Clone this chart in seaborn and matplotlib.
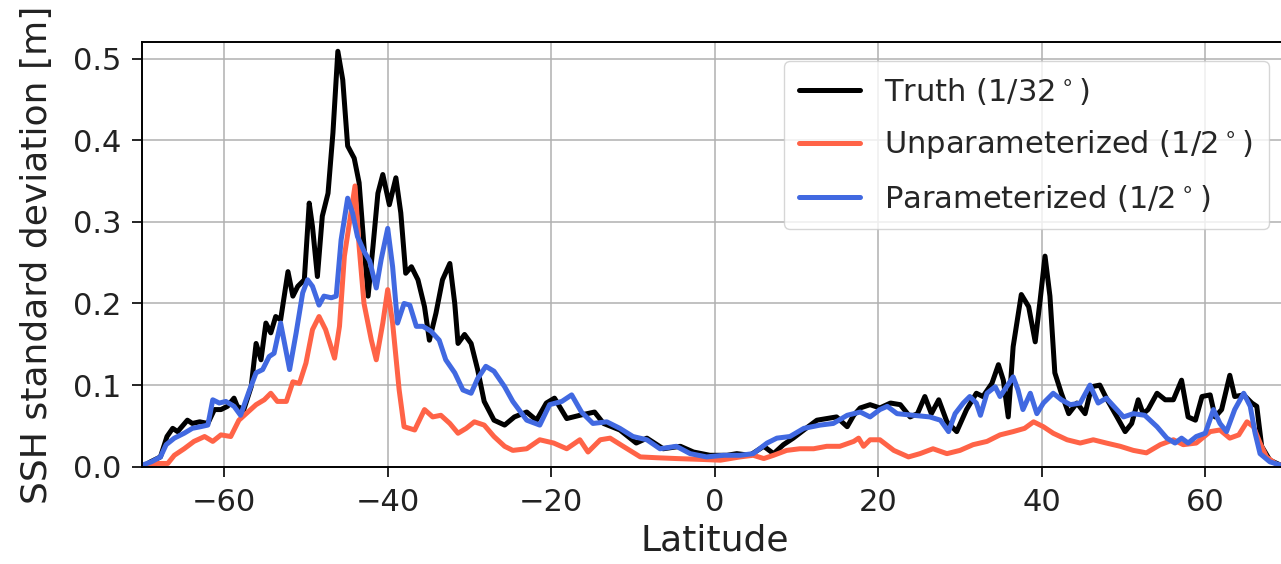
import matplotlib
matplotlib.use("Agg")
import matplotlib.pyplot as plt
import seaborn as sns

# Zonal SSH standard deviation profiles (latitude in degrees, values in metres)
truth_lat = [-70.0, -69.0, -67.8, -67.0, -66.3, -65.7, -64.5, -63.9, -63.0, -62.0,
             -61.2, -60.4, -59.6, -58.8, -58.4, -57.6, -56.7, -56.1, -55.5, -54.9,
             -54.3, -53.7, -53.1, -52.2, -51.6, -51.0, -50.2, -49.6, -49.2, -48.6,
             -48.0, -47.3, -46.7, -46.1, -45.5, -44.9, -44.1, -43.5, -42.9, -42.4,
             -41.8, -41.2, -40.6, -39.8, -39.0, -38.4, -37.8, -37.1, -36.3, -35.5,
             -34.9, -34.1, -33.3, -32.4, -31.8, -31.4, -30.6, -29.8, -29.0, -28.2,
             -27.0, -25.7, -24.5, -23.0, -21.8, -20.6, -19.6, -18.1, -16.5, -14.7,
             -13.6, -11.6, -9.6, -8.3, -6.3, -4.2, -2.6, -0.6, 1.5, 2.7,
             4.3, 6.0, 7.2, 8.4, 9.6, 10.9, 12.5, 13.7, 14.9, 16.2,
             17.0, 17.8, 19.0, 20.2, 21.5, 22.7, 23.9, 24.8, 25.7, 26.5,
             27.4, 28.4, 29.6, 30.8, 32.0, 32.8, 33.9, 34.7, 35.3, 35.9,
             36.5, 37.5, 38.4, 39.2, 39.8, 40.4, 41.0, 41.6, 42.4, 43.3,
             44.3, 45.3, 46.1, 47.1, 47.9, 49.2, 50.2, 51.0, 51.8, 52.4,
             53.0, 54.1, 55.1, 56.1, 57.1, 57.9, 58.8, 59.6, 60.6, 61.2,
             62.0, 63.0, 63.6, 64.7, 65.7, 66.3, 66.9, 67.9, 69.2]
truth_std = [0.000, 0.006, 0.012, 0.037, 0.047, 0.043, 0.057, 0.053, 0.055, 0.053,
             0.070, 0.070, 0.074, 0.084, 0.074, 0.070, 0.098, 0.151, 0.131, 0.176,
             0.164, 0.184, 0.180, 0.239, 0.209, 0.221, 0.229, 0.323, 0.294, 0.233,
             0.307, 0.335, 0.409, 0.509, 0.474, 0.393, 0.378, 0.348, 0.270, 0.209,
             0.270, 0.335, 0.358, 0.321, 0.354, 0.311, 0.237, 0.245, 0.229, 0.196,
             0.155, 0.188, 0.229, 0.249, 0.200, 0.151, 0.162, 0.151, 0.119, 0.080,
             0.057, 0.051, 0.061, 0.067, 0.057, 0.078, 0.084, 0.059, 0.063, 0.067,
             0.053, 0.045, 0.029, 0.035, 0.022, 0.025, 0.018, 0.014, 0.014, 0.016,
             0.014, 0.025, 0.016, 0.027, 0.035, 0.045, 0.057, 0.059, 0.061, 0.049,
             0.063, 0.072, 0.076, 0.072, 0.078, 0.076, 0.061, 0.065, 0.086, 0.065,
             0.082, 0.055, 0.043, 0.070, 0.090, 0.086, 0.102, 0.125, 0.106, 0.061,
             0.147, 0.211, 0.196, 0.153, 0.204, 0.258, 0.209, 0.115, 0.090, 0.065,
             0.078, 0.065, 0.098, 0.100, 0.084, 0.061, 0.043, 0.053, 0.082, 0.065,
             0.070, 0.090, 0.082, 0.082, 0.106, 0.061, 0.057, 0.086, 0.088, 0.061,
             0.070, 0.112, 0.086, 0.088, 0.078, 0.074, 0.025, 0.008, 0.002]

unparam_lat = [-70.0, -68.2, -66.9, -66.1, -64.9, -63.7, -62.4, -61.4, -60.4, -59.2,
               -58.2, -57.1, -56.1, -55.1, -54.3, -53.5, -52.4, -51.6, -50.8, -50.0,
               -49.2, -48.4, -47.6, -46.5, -45.9, -45.3, -44.5, -44.0, -43.5, -42.9,
               -42.0, -41.4, -40.6, -40.0, -39.4, -38.6, -38.0, -36.7, -35.5, -34.5,
               -33.5, -32.4, -31.4, -30.4, -29.4, -28.2, -27.0, -25.7, -24.7, -23.0,
               -21.4, -19.7, -18.1, -16.5, -15.5, -14.0, -12.8, -11.2, -9.1, -7.1,
               -4.7, -1.8, 0.7, 3.1, 4.7, 6.0, 7.2, 8.8, 10.4, 12.1,
               13.7, 15.3, 17.0, 17.6, 18.2, 19.0, 20.2, 21.9, 23.7, 25.1,
               26.7, 28.4, 30.0, 31.6, 33.3, 34.9, 36.5, 37.9, 39.0, 40.2,
               41.4, 43.1, 44.7, 46.3, 47.9, 49.6, 51.2, 52.8, 54.5, 56.1,
               57.3, 58.9, 60.6, 61.8, 63.0, 64.1, 65.1, 65.9, 66.7, 67.5,
               68.7, 69.2]
unparam_std = [0.001, 0.004, 0.004, 0.014, 0.022, 0.031, 0.037, 0.031, 0.039, 0.037,
               0.057, 0.067, 0.076, 0.082, 0.090, 0.080, 0.080, 0.104, 0.102, 0.127,
               0.168, 0.184, 0.168, 0.133, 0.172, 0.258, 0.311, 0.344, 0.270, 0.200,
               0.155, 0.131, 0.176, 0.217, 0.176, 0.094, 0.049, 0.045, 0.070, 0.061,
               0.063, 0.053, 0.041, 0.047, 0.055, 0.051, 0.037, 0.025, 0.020, 0.022,
               0.033, 0.029, 0.022, 0.033, 0.018, 0.033, 0.035, 0.025, 0.012, 0.011,
               0.010, 0.009, 0.008, 0.012, 0.014, 0.010, 0.014, 0.020, 0.022, 0.022,
               0.025, 0.025, 0.031, 0.035, 0.025, 0.033, 0.033, 0.020, 0.012, 0.016,
               0.022, 0.016, 0.020, 0.027, 0.031, 0.039, 0.043, 0.047, 0.055, 0.049,
               0.041, 0.033, 0.029, 0.033, 0.029, 0.025, 0.020, 0.017, 0.027, 0.033,
               0.027, 0.029, 0.043, 0.045, 0.035, 0.039, 0.055, 0.049, 0.029, 0.012,
               0.003, 0.002]

param_lat = [-70.0, -68.9, -67.8, -67.1, -66.1, -64.9, -63.9, -62.9, -62.0, -61.4,
             -60.6, -59.8, -58.8, -58.0, -56.9, -56.1, -55.3, -54.5, -53.9, -53.1,
             -52.0, -51.2, -50.4, -49.8, -49.2, -48.4, -47.8, -46.9, -46.3, -45.7,
             -44.9, -44.3, -43.7, -42.9, -42.2, -41.4, -40.8, -40.0, -39.4, -38.8,
             -38.0, -37.3, -36.5, -35.7, -34.7, -33.7, -32.9, -31.8, -30.8, -29.8,
             -29.0, -28.0, -27.0, -25.7, -24.7, -23.0, -21.4, -20.2, -18.7, -17.5,
             -16.3, -14.9, -13.2, -11.6, -10.0, -8.3, -6.7, -4.7, -3.0, -1.0,
             1.1, 3.1, 4.7, 6.4, 7.6, 9.2, 10.9, 12.9, 14.5, 16.2,
             17.8, 19.0, 20.2, 21.1, 22.3, 24.3, 26.3, 27.6, 28.6, 29.4,
             30.4, 31.2, 32.0, 32.5, 33.3, 34.3, 34.9, 35.7, 36.5, 37.1,
             37.7, 38.6, 39.4, 40.2, 41.4, 42.4, 43.5, 44.7, 45.9, 46.9,
             47.9, 49.0, 50.0, 51.2, 52.6, 54.1, 55.3, 56.3, 57.1, 57.9,
             58.9, 60.0, 61.0, 61.8, 62.6, 63.6, 64.7, 65.5, 66.1, 66.7,
             67.9, 69.2]
param_std = [0.002, 0.006, 0.012, 0.027, 0.035, 0.041, 0.047, 0.049, 0.051, 0.082,
             0.078, 0.080, 0.074, 0.063, 0.094, 0.115, 0.119, 0.135, 0.139, 0.176,
             0.119, 0.164, 0.213, 0.229, 0.221, 0.198, 0.209, 0.207, 0.209, 0.278,
             0.329, 0.311, 0.282, 0.264, 0.252, 0.219, 0.254, 0.292, 0.245, 0.176,
             0.200, 0.198, 0.172, 0.172, 0.166, 0.155, 0.131, 0.115, 0.094, 0.090,
             0.108, 0.123, 0.117, 0.098, 0.080, 0.057, 0.051, 0.076, 0.080, 0.088,
             0.067, 0.053, 0.055, 0.047, 0.037, 0.033, 0.022, 0.025, 0.016, 0.012,
             0.014, 0.014, 0.016, 0.029, 0.035, 0.037, 0.047, 0.051, 0.053, 0.063,
             0.067, 0.061, 0.070, 0.074, 0.065, 0.063, 0.061, 0.057, 0.043, 0.065,
             0.078, 0.086, 0.078, 0.063, 0.090, 0.098, 0.086, 0.098, 0.110, 0.094,
             0.070, 0.090, 0.065, 0.078, 0.090, 0.082, 0.076, 0.078, 0.100, 0.078,
             0.084, 0.072, 0.061, 0.065, 0.063, 0.049, 0.035, 0.029, 0.035, 0.029,
             0.037, 0.041, 0.070, 0.053, 0.043, 0.070, 0.090, 0.074, 0.041, 0.016,
             0.006, 0.002]

series_labels = ["Truth (1/32$^\\circ$)",
                 "Unparameterized (1/2$^\\circ$)",
                 "Parameterized (1/2$^\\circ$)"]
x_ticks = [-60, -40, -20, 0, 20, 40, 60]
y_ticks = [0.0, 0.1, 0.2, 0.3, 0.4, 0.5]

sns.set_style("ticks")
plt.rcParams["font.family"] = ["DejaVu Sans"]
plt.rcParams["mathtext.fontset"] = "dejavusans"

fig = plt.figure(figsize=(12.81, 5.64), dpi=100)
ax = fig.add_axes([0.1112, 0.1725, 0.8935, 0.7525])

lw = 3.6
sns.lineplot(x=truth_lat, y=truth_std, color="black", linewidth=lw,
             estimator=None, label=series_labels[0], ax=ax)
sns.lineplot(x=unparam_lat, y=unparam_std, color="tomato", linewidth=lw,
             estimator=None, label=series_labels[1], ax=ax)
sns.lineplot(x=param_lat, y=param_std, color="royalblue", linewidth=lw,
             estimator=None, label=series_labels[2], ax=ax)
for line in ax.lines:
    line.set_linewidth(lw)
    line.set_solid_joinstyle("round")

ax.set_xlim(-70, 70)
ax.set_ylim(0, 0.52)
ax.set_xticks(x_ticks)
ax.set_yticks(y_ticks)
ax.set_xticklabels([f"{t}".replace("-", "\u2212") for t in x_ticks])
ax.set_yticklabels([f"{t:.1f}" for t in y_ticks])
ax.grid(True, color="#b0b0b0", lw=1.1)
ax.set_axisbelow(True)

for s in ax.spines.values():
    s.set_color("black")
    s.set_linewidth(1.4)
ax.tick_params(axis="both", which="major", labelsize=22, length=7, width=1.2,
               pad=8, color="black", labelcolor="#222222", direction="out")

ax.set_xlabel("Latitude", fontsize=26, color="#222222", labelpad=5)
ax.set_ylabel("SSH standard deviation [m]", fontsize=26, color="#222222",
              labelpad=14)

leg = ax.legend(loc="upper right", fontsize=22, frameon=True, fancybox=True,
                framealpha=0.8, edgecolor="#cccccc", handlelength=2.0,
                labelspacing=0.7, borderpad=0.5, borderaxespad=0.6)
for line in leg.get_lines():
    line.set_linewidth(lw)

fig.savefig("out.png", dpi=100)
